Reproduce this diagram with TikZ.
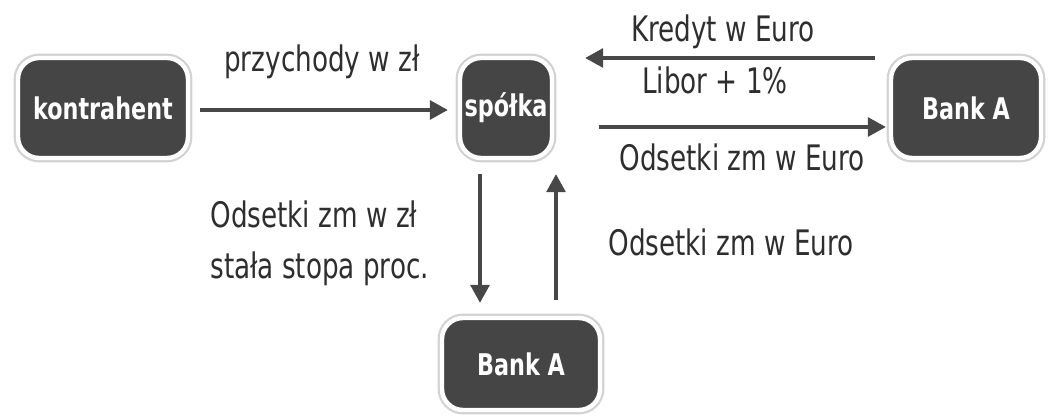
\documentclass[tikz,border=0pt]{standalone}
\usepackage{fontspec}
\setmainfont{DejaVu Sans Condensed}[FakeStretch=0.83]
\usetikzlibrary{arrows.meta,calc}
\definecolor{boxfill}{HTML}{454545}
\definecolor{arrcol}{HTML}{474747}
\definecolor{txtcol}{HTML}{2E2E2E}
\tikzset{
  box/.style={rounded corners=12pt, fill=boxfill, draw=white, line width=2.5pt,
    preaction={draw=gray!35, line width=5pt},
    text=white, font=\bfseries\fontsize{17}{20}\selectfont, inner sep=0pt},
  arr/.style={draw=arrcol, line width=1.8pt, -{Triangle[length=0.36cm,width=0.38cm]}},
  lbl/.style={text=txtcol, font=\fontsize{20}{29}\selectfont, inner sep=0pt}
}
\begin{document}
\begin{tikzpicture}[x=0.02cm,y=-0.02cm]
\useasboundingbox (0,0) rectangle (1054,418);
\node[box, minimum width=3.4cm, minimum height=2cm] (k) at (103,108) {kontrahent};
\node[box, minimum width=1.84cm, minimum height=2cm] (s) at (506,108) {spółka};
\node[box, minimum width=3cm, minimum height=2cm] (b1) at (966,108) {Bank A};
\node[box, minimum width=3.16cm, minimum height=1.84cm] (b2) at (521,364) {Bank A};

\draw[arr] ($(k.east)+(10,2)$) -- ($(s.west)+(-10,2)$);
\draw[arr] ($(b1.west)+(-14,-50)$) -- ($(s.east)+(31,-50)$);
\draw[arr] ($(s.east)+(45,19)$) -- ($(b1.west)+(-3,19)$);
\draw[arr] ($(s.south)+(-26,14)$) -- ($(b2.north)+(-41,-13)$);
\draw[arr] ($(b2.north)+(35,-16)$) -- ($(s.south)+(50,14)$);

\node[lbl] (l1) at (322,62) {przychody w zł};
\node[lbl] (l2) at (723,32) {Kredyt w Euro};
\node[lbl] (l3) at (715,80) {Libor + 1\%};
\node[lbl] (l4) at (742,157) {Odsetki zm w Euro};
\node[lbl, align=left, anchor=west] (l5) at (210,243) {Odsetki zm w zł\\stała stopa proc.};
\node[lbl, anchor=west] (l6) at (608,242) {Odsetki zm w Euro};
\end{tikzpicture}
\end{document}
